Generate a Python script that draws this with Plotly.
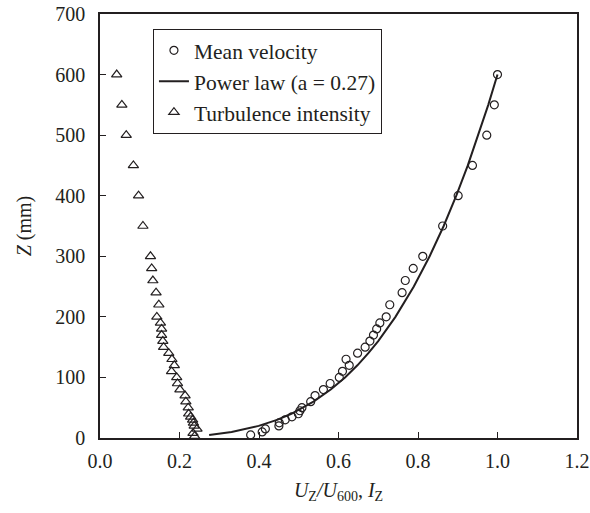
import plotly.graph_objects as go

# Mean velocity (U_Z/U_600) vs height Z (mm)
vel_z = [5, 10, 15, 20, 25, 30, 35, 40, 45, 50, 60, 70, 80, 90, 100, 110, 120, 130, 140,
         150, 160, 170, 180, 190, 200, 220, 240, 260, 280, 300, 350, 400, 450, 500, 550, 600]
vel_u = [0.379, 0.408, 0.416, 0.450, 0.451, 0.466, 0.483, 0.499, 0.503, 0.508, 0.530, 0.541,
         0.562, 0.579, 0.602, 0.610, 0.627, 0.619, 0.648, 0.667, 0.679, 0.688, 0.696, 0.704,
         0.720, 0.729, 0.760, 0.768, 0.788, 0.812, 0.862, 0.901, 0.937, 0.973, 0.992, 1.000]

# Power law (a = 0.27) curve
pl_z = [5, 10, 20, 30, 40, 50, 60, 80, 100, 120, 140, 160, 180, 200, 250, 300, 350, 400, 450, 500, 550, 600]
pl_u = [0.2746, 0.3311, 0.3992, 0.4454, 0.4813, 0.5112, 0.5370, 0.5804, 0.6164, 0.6476, 0.6751,
        0.6999, 0.7225, 0.7433, 0.7895, 0.8293, 0.8646, 0.8963, 0.9253, 0.9520, 0.9768, 1.0]

# Turbulence intensity I_Z vs height Z (mm)
ti_z = [3, 8, 15, 20, 25, 30, 35, 40, 50, 60, 70, 80, 90, 100, 110, 120, 130, 140, 150, 160,
        170, 180, 190, 200, 220, 240, 260, 280, 300, 350, 400, 450, 500, 550, 600]
ti_i = [0.238, 0.234, 0.244, 0.237, 0.235, 0.233, 0.228, 0.223, 0.222, 0.216, 0.214, 0.201,
        0.195, 0.193, 0.180, 0.187, 0.181, 0.173, 0.160, 0.158, 0.155, 0.155, 0.152, 0.143,
        0.148, 0.141, 0.133, 0.130, 0.127, 0.108, 0.097, 0.084, 0.066, 0.055, 0.042]

x_ticks = [0.0, 0.2, 0.4, 0.6, 0.8, 1.0, 1.2]
y_ticks = [0, 100, 200, 300, 400, 500, 600, 700]

FONT = "Liberation Serif, Times New Roman, serif"
INK = "#231f20"

fig = go.Figure()
fig.add_trace(go.Scatter(
    x=vel_u, y=vel_z, mode="markers", name="Mean velocity", legendgroup="a",
    marker=dict(symbol="circle-open", size=8, color=INK, line=dict(width=1.2, color=INK)),
    cliponaxis=False))
fig.add_trace(go.Scatter(
    x=pl_u, y=pl_z, mode="lines", name="Power law (a = 0.27)", legendgroup="b",
    line=dict(color=INK, width=2)))
fig.add_trace(go.Scatter(
    x=ti_i, y=ti_z, mode="markers", name="Turbulence intensity", legendgroup="c",
    marker=dict(symbol="triangle-up-open", size=9, color=INK, line=dict(width=1.2, color=INK)),
    cliponaxis=False))

fig.update_layout(
    width=590, height=513,
    margin=dict(l=100, r=13, t=14, b=75, autoexpand=False),
    paper_bgcolor="white", plot_bgcolor="white",
    font=dict(family=FONT, size=20, color=INK),
    showlegend=True,
    legend=dict(x=0.111, y=0.965, xanchor="left", yanchor="top",
                bgcolor="white", bordercolor=INK, borderwidth=1,
                font=dict(family=FONT, size=21.5, color=INK),
                tracegroupgap=0, itemwidth=30),
    xaxis=dict(range=[0, 1.2], tickvals=x_ticks, ticktext=[f"{v:.1f}" for v in x_ticks],
               ticks="inside", ticklen=6, tickcolor=INK, tickwidth=1, ticklabelstandoff=4,
               showline=True, linecolor=INK, linewidth=1.5, mirror=True,
               showgrid=False, zeroline=False, automargin=False,
               title=dict(text="<i>U</i><sub>Z</sub><i>/U</i><sub>600</sub>, <i>I</i><sub>Z</sub>",
                          standoff=12, font=dict(family=FONT, size=20, color=INK))),
    yaxis=dict(range=[0, 700], tickvals=y_ticks, ticks="inside", ticklen=6, tickcolor=INK, tickwidth=1,
               ticklabelstandoff=9,
               showline=True, linecolor=INK, linewidth=1.5, mirror=True,
               showgrid=False, zeroline=False, automargin=False,
               title=dict(text="<i>Z</i> (mm)", standoff=18, font=dict(family=FONT, size=20, color=INK))),
)

fig.write_html("out.html", config={"displayModeBar": False},
               post_script="document.body.style.margin='0';document.body.style.overflow='hidden';")
